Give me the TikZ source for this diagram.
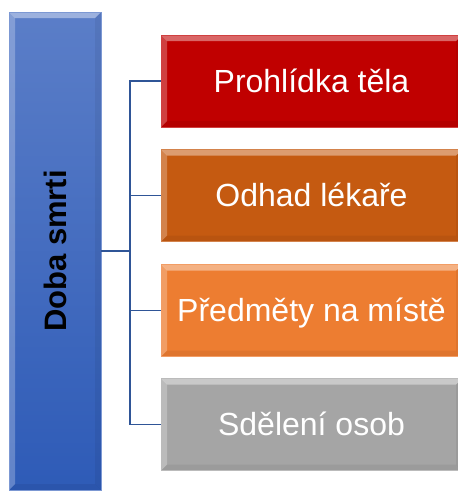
\documentclass[tikz,border=0pt]{standalone}
\usepackage{fontspec}
\setmainfont{Liberation Sans}
\usepackage{graphicx}
\definecolor{cred}{HTML}{C00000}
\definecolor{cbrown}{HTML}{C55A11}
\definecolor{corange}{HTML}{ED7D31}
\definecolor{cgray}{HTML}{A5A5A5}
\definecolor{cline}{HTML}{2F5597}
\definecolor{bartop}{HTML}{5B7EC8}
\definecolor{barbot}{HTML}{2E5BB7}
\tikzset{
  bevel/.style={path picture={
    \fill[white,opacity=0.4] (path picture bounding box.north west) -- (path picture bounding box.north east)
      -- ([shift={(-#1,-#1)}]path picture bounding box.north east) -- ([shift={(#1,-#1)}]path picture bounding box.north west) -- cycle;
    \fill[white,opacity=0.25] (path picture bounding box.north west) -- ([shift={(#1,-#1)}]path picture bounding box.north west)
      -- ([shift={(#1,#1)}]path picture bounding box.south west) -- (path picture bounding box.south west) -- cycle;
    \fill[black,opacity=0.06] (path picture bounding box.south west) -- ([shift={(#1,#1)}]path picture bounding box.south west)
      -- ([shift={(-#1,#1)}]path picture bounding box.south east) -- (path picture bounding box.south east) -- cycle;
    \fill[black,opacity=0.06] (path picture bounding box.north east) -- ([shift={(-#1,-#1)}]path picture bounding box.north east)
      -- ([shift={(-#1,#1)}]path picture bounding box.south east) -- (path picture bounding box.south east) -- cycle;
  }},
  itembox/.style={bevel=6pt, draw=#1!75!white, line width=0.6pt, fill=#1, minimum width=301pt, minimum height=92pt,
    inner sep=0pt, text=white, font=\fontsize{32}{38}\selectfont, text height=22pt, text depth=0pt},
  barbox/.style={bevel=6pt, top color=bartop, bottom color=barbot, draw=bartop!80!white, line width=0.6pt,
    minimum width=92pt, minimum height=478pt, inner sep=0pt, font=\bfseries\fontsize{31}{37}\selectfont},
  conn/.style={draw=cline, line width=1.6pt}
}
\begin{document}
\begin{tikzpicture}[x=1pt,y=-1pt]
\useasboundingbox (0,0) rectangle (458,491);
\clip (0,0) rectangle (458,491);
\node[barbox] (bar) at (55,251) {\rotatebox{90}{Doba smrti}};
\node[itembox=cred] (b1) at (311.5,81) {Prohlídka těla};
\node[itembox=cbrown] (b2) at (311.5,195.5) {Odhad lékaře};
\node[itembox=corange] (b3) at (311.5,310.5) {Předměty na místě};
\node[itembox=cgray] (b4) at (311.5,424.5) {Sdělení osob};
\coordinate (j) at (130,251);
\draw[conn] (bar.east) -- (j);
\draw[conn] (j) |- (b1.west);
\draw[conn] (j) |- (b2.west);
\draw[conn] (j) |- (b3.west);
\draw[conn] (j) |- (b4.west);
\end{tikzpicture}
\end{document}
